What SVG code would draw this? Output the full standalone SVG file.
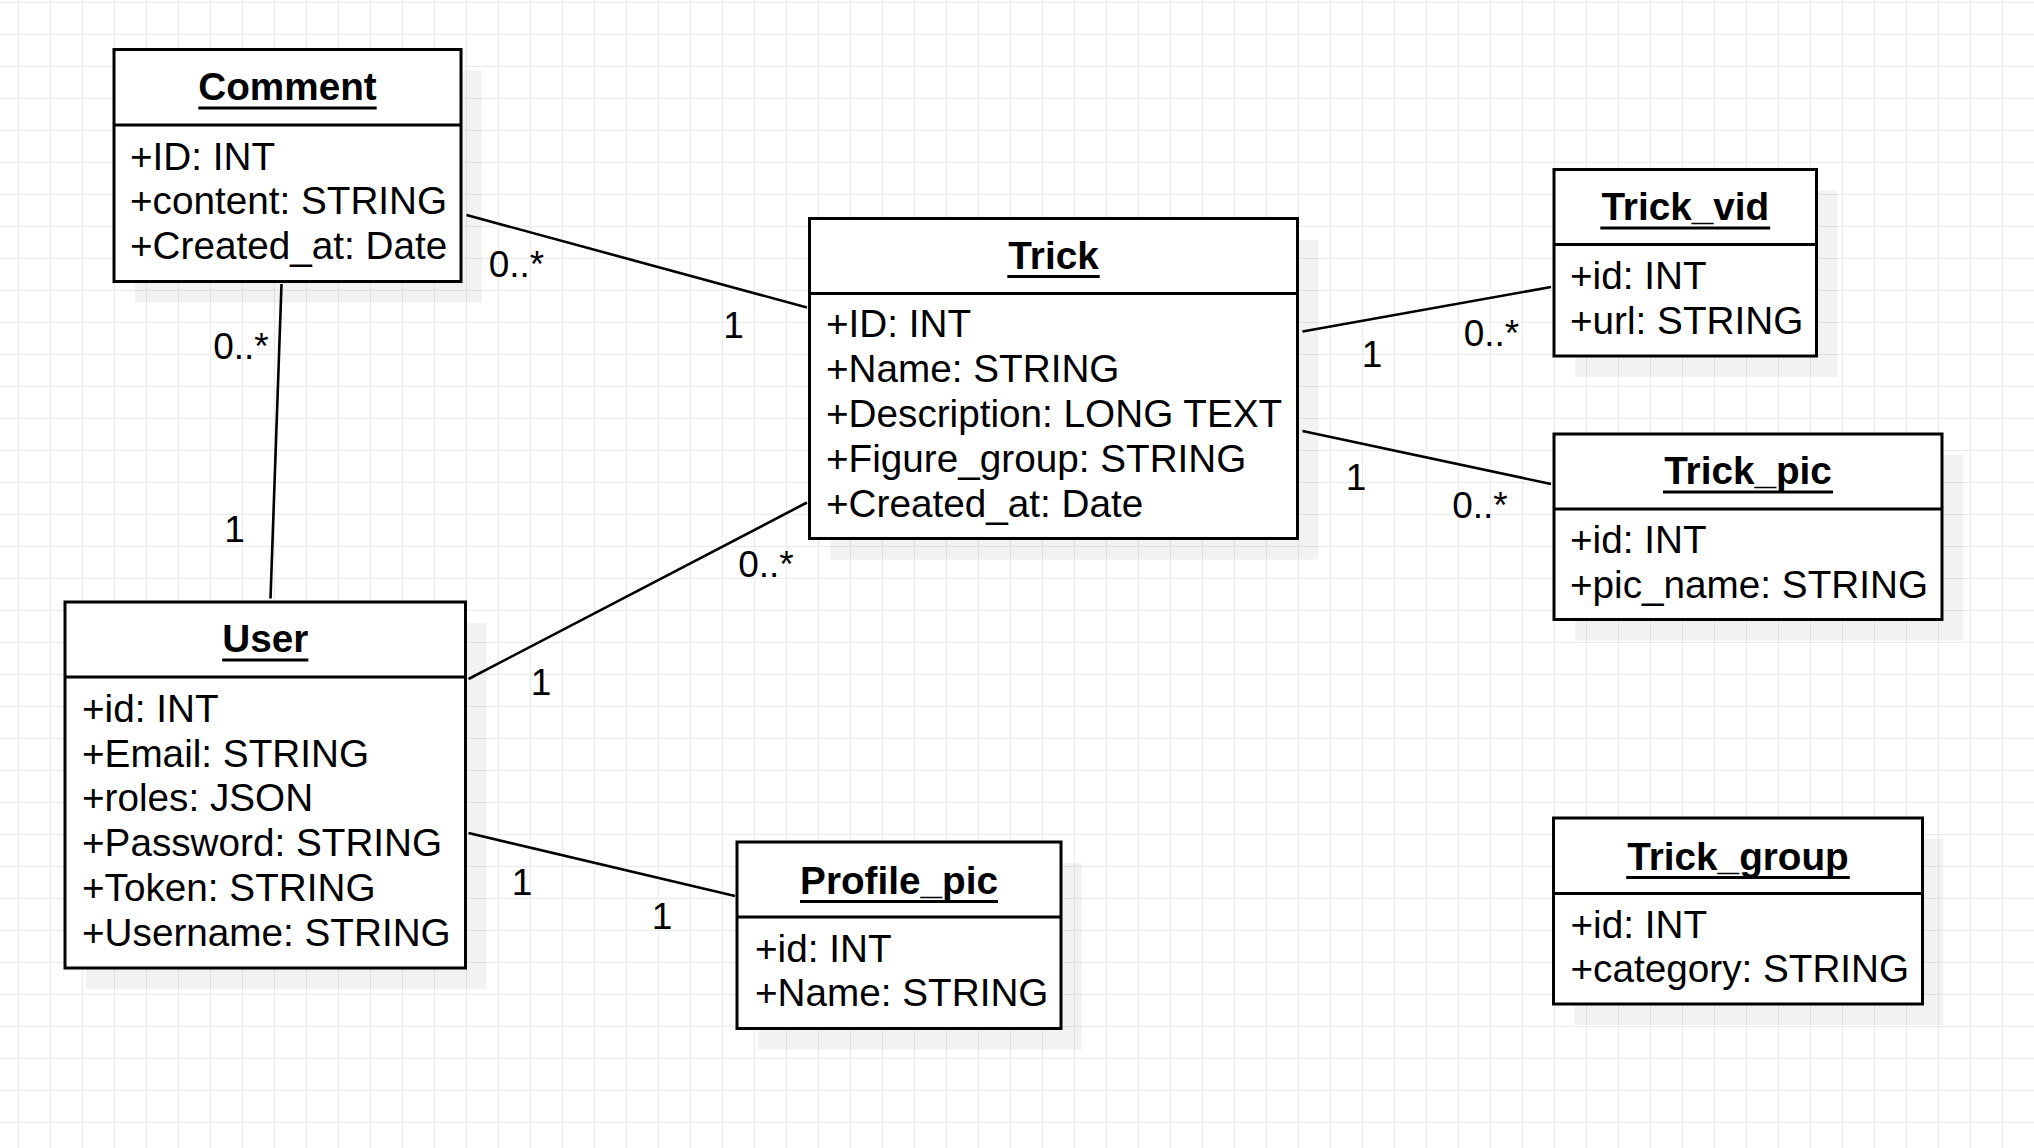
<svg xmlns="http://www.w3.org/2000/svg" width="2034" height="1148" viewBox="0 0 2034 1148">
<defs>
<pattern id="grid" x="18" y="2" width="32" height="32" patternUnits="userSpaceOnUse">
<path d="M0 0.5 H32 M0.5 0 V32" fill="none" stroke="#ebebeb" stroke-width="1"/>
</pattern>
<style>
.shadow{fill:#000;fill-opacity:0.05;stroke:none}
.box{fill:#fff;stroke:#000;stroke-width:3}
.div{stroke:#000;stroke-width:3}
.ul{stroke:#000;stroke-width:2.8}
.title{font-family:"Liberation Sans",Arial,sans-serif;font-weight:bold;font-size:38.7px;text-anchor:middle;fill:#000}
.attr{font-family:"Liberation Sans",Arial,sans-serif;font-size:38.7px;fill:#000}
.lbl{font-family:"Liberation Sans",Arial,sans-serif;font-size:37px;text-anchor:middle;fill:#000}
.conn line{stroke:#000;stroke-width:2.6}
</style>
</defs>
<rect width="2034" height="1148" fill="#fff"/>
<rect width="2034" height="1148" fill="url(#grid)"/>

<g id="connectors" class="conn">
<line x1="466.5" y1="215" x2="807" y2="307.5"/>
<line x1="281.5" y1="284" x2="270.5" y2="598.5"/>
<line x1="468.5" y1="679" x2="807" y2="502.5"/>
<line x1="468.5" y1="833" x2="735" y2="896"/>
<line x1="1302.5" y1="331.5" x2="1551" y2="287"/>
<line x1="1302.5" y1="431" x2="1551" y2="484"/>
</g>

<g id="labels">
<text class="lbl" x="516.5" y="276.5">0..*</text>
<text class="lbl" x="733.5" y="337.5">1</text>
<text class="lbl" x="241" y="358.5">0..*</text>
<text class="lbl" x="234.5" y="541.5">1</text>
<text class="lbl" x="541" y="694.5">1</text>
<text class="lbl" x="766" y="576.5">0..*</text>
<text class="lbl" x="522" y="895">1</text>
<text class="lbl" x="662" y="928.5">1</text>
<text class="lbl" x="1372" y="366.5">1</text>
<text class="lbl" x="1491.5" y="345.5">0..*</text>
<text class="lbl" x="1356" y="490">1</text>
<text class="lbl" x="1480" y="517.5">0..*</text>
</g>

<g id="Comment">
<rect class="shadow" x="135" y="70.5" width="347" height="232"/>
<rect class="box" x="114" y="49.5" width="347" height="232"/>
<line class="div" x1="114" y1="125" x2="461" y2="125"/>
<text class="title" x="287.5" y="100">Comment</text>
<line class="ul" x1="198.3" y1="108" x2="376.7" y2="108"/>
<text class="attr" x="130" y="169.5">+ID: INT</text>
<text class="attr" x="130" y="214">+content: STRING</text>
<text class="attr" x="130" y="258.5">+Created_at: Date</text>
</g>

<g id="Trick">
<rect class="shadow" x="830.5" y="239.5" width="488" height="320"/>
<rect class="box" x="809.5" y="218.5" width="488" height="320"/>
<line class="div" x1="809.5" y1="293.5" x2="1297.5" y2="293.5"/>
<text class="title" x="1053.5" y="268.5">Trick</text>
<line class="ul" x1="1007.3" y1="276.5" x2="1099.7" y2="276.5"/>
<text class="attr" x="826" y="337">+ID: INT</text>
<text class="attr" x="826" y="382">+Name: STRING</text>
<text class="attr" x="826" y="427">+Description: LONG TEXT</text>
<text class="attr" x="826" y="472">+Figure_group: STRING</text>
<text class="attr" x="826" y="517">+Created_at: Date</text>
</g>

<g id="Trick_vid">
<rect class="shadow" x="1575" y="190.5" width="262.5" height="186.5"/>
<rect class="box" x="1554" y="169.5" width="262.5" height="186.5"/>
<line class="div" x1="1554" y1="244.5" x2="1816.5" y2="244.5"/>
<text class="title" x="1685.25" y="220">Trick_vid</text>
<line class="ul" x1="1600.3" y1="228" x2="1770.2" y2="228"/>
<text class="attr" x="1570" y="289">+id: INT</text>
<text class="attr" x="1570" y="333.5">+url: STRING</text>
</g>

<g id="Trick_pic">
<rect class="shadow" x="1575" y="455" width="388" height="185.5"/>
<rect class="box" x="1554" y="434" width="388" height="185.5"/>
<line class="div" x1="1554" y1="509" x2="1942" y2="509"/>
<text class="title" x="1748" y="484">Trick_pic</text>
<line class="ul" x1="1663" y1="492" x2="1833" y2="492"/>
<text class="attr" x="1570" y="553">+id: INT</text>
<text class="attr" x="1570" y="598">+pic_name: STRING</text>
</g>

<g id="Trick_group">
<rect class="shadow" x="1574.5" y="839" width="369" height="186"/>
<rect class="box" x="1553.5" y="818" width="369" height="186"/>
<line class="div" x1="1553.5" y1="893.5" x2="1922.5" y2="893.5"/>
<text class="title" x="1738" y="869.5">Trick_group</text>
<line class="ul" x1="1626.2" y1="877.5" x2="1849.8" y2="877.5"/>
<text class="attr" x="1570.5" y="937.5">+id: INT</text>
<text class="attr" x="1570.5" y="982">+category: STRING</text>
</g>

<g id="User">
<rect class="shadow" x="86" y="623" width="400.5" height="366"/>
<rect class="box" x="65" y="602" width="400.5" height="366"/>
<line class="div" x1="65" y1="677" x2="465.5" y2="677"/>
<text class="title" x="265.25" y="652">User</text>
<line class="ul" x1="222.2" y1="660" x2="308.3" y2="660"/>
<text class="attr" x="82" y="721.5">+id: INT</text>
<text class="attr" x="82" y="766.5">+Email: STRING</text>
<text class="attr" x="82" y="811">+roles: JSON</text>
<text class="attr" x="82" y="856">+Password: STRING</text>
<text class="attr" x="82" y="901">+Token: STRING</text>
<text class="attr" x="82" y="945.5">+Username: STRING</text>
</g>

<g id="Profile_pic">
<rect class="shadow" x="758" y="863" width="324" height="186.5"/>
<rect class="box" x="737" y="842" width="324" height="186.5"/>
<line class="div" x1="737" y1="917" x2="1061" y2="917"/>
<text class="title" x="899" y="893.5">Profile_pic</text>
<line class="ul" x1="800" y1="901.5" x2="998" y2="901.5"/>
<text class="attr" x="755" y="961.5">+id: INT</text>
<text class="attr" x="755" y="1006">+Name: STRING</text>
</g>
</svg>
